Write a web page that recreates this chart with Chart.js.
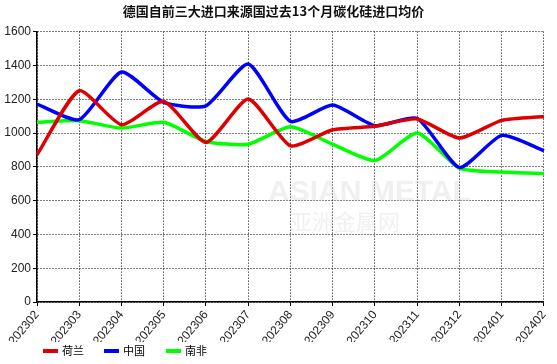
<!DOCTYPE html>
<html>
<head>
<meta charset="utf-8">
<script src="https://cdn.jsdelivr.net/npm/chart.js@4"></script>
<style>
    body { margin: 0; background: #fff; }
    canvas { display: block; }
</style>
</head>
<body>
<canvas id="myChart" width="557" height="364"></canvas>
<script>
const months = ['202302', '202303', '202304', '202305', '202306', '202307', '202308', '202309', '202310', '202311', '202312', '202401', '202402'];
const netherlands = [871, 1250, 1049, 1187, 944, 1201, 924, 1019, 1040, 1083, 970, 1075, 1098];
const china = [1171, 1079, 1361, 1181, 1161, 1408, 1069, 1165, 1043, 1086, 796, 986, 895];
const southAfrica = [1063, 1073, 1029, 1063, 950, 934, 1037, 933, 837, 1000, 792, 769, 760];
const seriesNames = ['荷兰', '中国', '南非'];
const seriesColors = ['#dd0000', '#0000ff', '#00ff00'];

// faint watermark behind the lines
const watermark = {
    id: 'watermark',
    beforeDatasetsDraw(chart) {
        const ctx = chart.ctx;
        ctx.save();
        ctx.fillStyle = 'rgba(200,200,200,0.28)';
        ctx.font = 'bold 30px "Liberation Sans", Arial, sans-serif';
        ctx.textBaseline = 'middle';
        ctx.fillText('ASIAN METAL', 268, 193);
        ctx.font = '22px "Noto Sans CJK SC", sans-serif';
        ctx.fillText('亚洲金属网', 290, 222);
        ctx.restore();
    }
};

// legend drawn by hand so the boxes sit where the original has them
const bottomLegend = {
    id: 'bottomLegend',
    afterDraw(chart) {
        const ctx = chart.ctx;
        const xs = [43, 104, 166];
        ctx.save();
        ctx.font = '11px "Noto Sans CJK SC", sans-serif';
        ctx.textBaseline = 'middle';
        chart.data.datasets.forEach((ds, i) => {
            ctx.fillStyle = ds.borderColor;
            ctx.fillRect(xs[i], 349, 15, 4);
            ctx.fillStyle = '#000';
            ctx.fillText(ds.label, xs[i] + 19, 351);
        });
        ctx.restore();
    }
};

const data = {
    labels: months,
    datasets: [
        { label: seriesNames[0], data: netherlands, borderColor: seriesColors[0] },
        { label: seriesNames[1], data: china, borderColor: seriesColors[1] },
        { label: seriesNames[2], data: southAfrica, borderColor: seriesColors[2] }
    ].map(ds => Object.assign(ds, { borderWidth: 3.5, pointRadius: 0, tension: 0.2, fill: false }))
};

const gridStyle = { color: '#000', lineWidth: 1, tickLength: 4, tickBorderDash: [], tickColor: '#000' };
const borderStyle = { display: true, color: '#000', width: 1.5, dash: [1, 2] };

const config = {
    type: 'line',
    data: data,
    options: {
        responsive: false,
        animation: false,
        layout: { padding: { left: 0, right: 10, top: 0, bottom: 22 } },
        plugins: {
            legend: { display: false },
            tooltip: { enabled: false },
            title: {
                display: true,
                text: '德国自前三大进口来源国过去13个月碳化硅进口均价',
                color: '#111',
                font: { size: 13, weight: 'bold', family: '"Noto Sans CJK SC", sans-serif' },
                padding: { top: 3, bottom: 13 }
            }
        },
        scales: {
            x: {
                offset: false,
                afterFit: (scale) => { scale.height = 40; },
                grid: gridStyle,
                border: borderStyle,
                ticks: {
                    color: '#222',
                    maxRotation: 50,
                    minRotation: 50,
                    autoSkip: false,
                    padding: 2,
                    font: { size: 12, family: '"Liberation Sans", Arial, sans-serif' }
                }
            },
            y: {
                min: 0,
                max: 1600,
                afterFit: (scale) => { scale.width = 37; },
                grid: gridStyle,
                border: borderStyle,
                ticks: {
                    stepSize: 200,
                    color: '#222',
                    padding: 2,
                    callback: (v) => String(v),
                    font: { size: 12, family: '"Liberation Sans", Arial, sans-serif' }
                }
            }
        }
    },
    plugins: [watermark, bottomLegend]
};

const myChart = new Chart(document.getElementById('myChart'), config);
</script>
</body>
</html>
